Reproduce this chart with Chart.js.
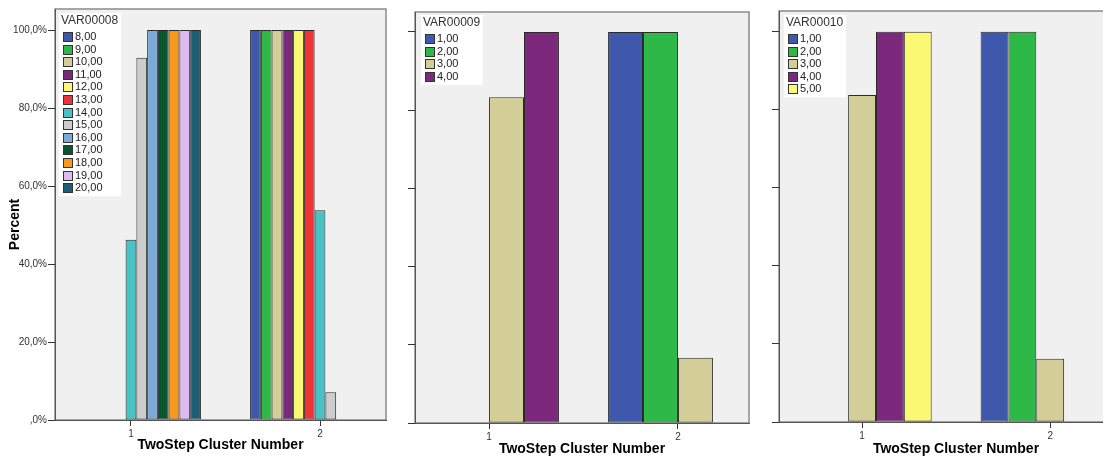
<!DOCTYPE html>
<html><head><meta charset="utf-8">
<script src="https://cdn.jsdelivr.net/npm/chart.js@4.4.1/dist/chart.umd.min.js"></script>
<style>
html,body{margin:0;padding:0;background:#fff;overflow:hidden;width:1103px;height:456px;}
canvas{position:absolute;top:0;}
</style></head><body>
<canvas id="c1" width="395" height="456" style="left:0px"></canvas>
<canvas id="c2" width="370" height="456" style="left:395px"></canvas>
<canvas id="c3" width="380" height="456" style="left:765px"></canvas>
<script>
// ---- data ----
const clusterPositions = [1, 2];
const clusterLabels = ['1', '2'];
const yTickValues = [0, 20, 40, 60, 80, 100];
const yTickLabels = [',0%', '20,0%', '40,0%', '60,0%', '80,0%', '100,0%'];
const xTitle = 'TwoStep Cluster Number';
const yTitle = 'Percent';

const p1Title = 'VAR00008';
const p1Series = ['8,00','9,00','10,00','11,00','12,00','13,00','14,00','15,00','16,00','17,00','18,00','19,00','20,00'];
const p1Cluster1 = [null, null, null, null, null, null, 46.2, 92.9, 100, 100, 100, 100, 100];
const p1Cluster2 = [100, 100, 100, 100, 100, 100, 53.8, 7.1, null, null, null, null, null];

const p2Title = 'VAR00009';
const p2Series = ['1,00','2,00','3,00','4,00'];
const p2Cluster1 = [null, null, 83.3, 100];
const p2Cluster2 = [100, 100, 16.7, null];

const p3Title = 'VAR00010';
const p3Series = ['1,00','2,00','3,00','4,00','5,00'];
const p3Cluster1 = [null, null, 83.8, 100, 100];
const p3Cluster2 = [100, 100, 16.2, null, null];

// ---- style ----
const palette = ['#3E58AC','#2EB848','#D3CE97','#7C287D','#FBF873','#EF3338','#48C2C5','#CCCCCC','#7AAAD5','#0A562C','#F8981D','#DDBAF1','#1A5F76'];
const FONT = '"Liberation Sans", Arial, sans-serif';

const framePlugin = {
  id: 'frame',
  beforeDraw(chart) {
    const {ctx, chartArea: a} = chart;
    ctx.save();
    ctx.fillStyle = '#f0f0f0';
    ctx.fillRect(a.left, a.top, a.right - a.left, a.bottom - a.top);
    ctx.strokeStyle = '#8a8a8a';
    ctx.lineWidth = 1.5;
    ctx.strokeRect(a.left, a.top, a.right - a.left, a.bottom - a.top);
    ctx.restore();
  }
};

// y-axis title drawn slightly below the plot centre, as in the reference
const yTitlePlugin = {
  id: 'yTitleText',
  afterDraw(chart, args, opts) {
    if (!opts.text) return;
    const ctx = chart.ctx, a = chart.chartArea;
    ctx.save();
    ctx.translate(opts.x, (a.top + a.bottom) / 2 + opts.dy);
    ctx.rotate(-Math.PI / 2);
    ctx.textAlign = 'center';
    ctx.textBaseline = 'middle';
    ctx.fillStyle = '#000';
    ctx.font = 'bold 14px ' + FONT;
    ctx.fillText(opts.text, 0, 0);
    ctx.restore();
  }
};

const boxLegend = {
  id: 'boxLegend',
  afterDraw(chart, args, opts) {
    const ctx = chart.ctx, a = chart.chartArea;
    const x0 = a.left + opts.dx, y0 = a.top + opts.dy;
    const ds = chart.data.datasets, n = ds.length, step = 12.6;
    const h = 8 + 16 + (n - 1) * step + 8;
    ctx.save();
    ctx.fillStyle = '#ffffff';
    ctx.fillRect(x0, y0, 62, h);
    ctx.textBaseline = 'middle';
    ctx.textAlign = 'left';
    ctx.fillStyle = '#333';
    ctx.font = '12px ' + FONT;
    ctx.fillText(opts.title, x0 + 2, y0 + 8);
    ds.forEach((d, i) => {
      const cy = Math.round(y0 + 24 + i * step);
      ctx.fillStyle = d.backgroundColor;
      ctx.fillRect(x0 + 4.5, cy - 4.5, 9, 9);
      ctx.strokeStyle = '#333';
      ctx.lineWidth = 1;
      ctx.strokeRect(x0 + 4.5, cy - 4.5, 9, 9);
      ctx.fillStyle = '#222';
      ctx.font = '11px ' + FONT;
      ctx.fillText(d.label, x0 + 16, cy);
    });
    ctx.restore();
  }
};

function makeChart(id, c) {
  const datasets = c.series.map((lab, i) => ({
    label: lab,
    data: clusterPositions.map((x, k) => ({x: x, y: [c.c1, c.c2][k][i]})),
    backgroundColor: palette[i],
    borderColor: '#2a2a2a',
    borderWidth: 1,
    borderSkipped: false,
    categoryPercentage: 0.74,
    barPercentage: 1
  }));
  return new Chart(document.getElementById(id), {
    type: 'bar',
    data: {datasets},
    plugins: [framePlugin, boxLegend, yTitlePlugin],
    options: {
      responsive: false,
      animation: false,
      devicePixelRatio: 1,
      layout: {padding: {left: 0, right: c.pr, top: c.pt, bottom: 0}},
      plugins: {
        legend: {display: false},
        tooltip: {enabled: false},
        boxLegend: {title: c.title, dx: c.ldx, dy: c.ldy},
        yTitleText: {text: c.yLabels ? yTitle : '', x: 15.5, dy: 10}
      },
      scales: {
        x: {
          type: 'linear', offset: false, min: c.xmin, max: c.xmax,
          afterBuildTicks: s => { s.ticks = clusterPositions.map(v => ({value: v})); },
          afterFit: s => { s.height = c.xh; },
          grid: {display: true, drawOnChartArea: false, drawTicks: true, tickLength: 6, color: '#333', offset: false},
          border: {display: true, color: '#555', width: 1},
          ticks: {callback: (v, i) => clusterLabels[i], font: {family: FONT, size: 10}, color: '#333', padding: 2, maxRotation: 0, autoSkip: false},
          title: {display: true, text: xTitle, color: '#000', font: {family: FONT, size: 14, weight: 'bold', lineHeight: 1}, padding: {top: 0, bottom: c.tpb}}
        },
        y: {
          min: 0, max: c.ymax,
          afterBuildTicks: s => { s.ticks = yTickValues.map(v => ({value: v})); },
          afterFit: s => { s.width = c.yw; },
          grid: {display: true, drawOnChartArea: false, drawTicks: true, tickLength: 7, color: '#333'},
          border: {display: true, color: '#555', width: 1},
          ticks: {callback: (v, i) => c.yLabels ? yTickLabels[i] : '', font: {family: FONT, size: 10}, color: '#333', padding: 1},
          title: {display: false}
        }
      }
    }
  });
}

makeChart('c1', {series: p1Series, c1: p1Cluster1, c2: p1Cluster2, title: p1Title,
  xmin: 0.598, xmax: 2.349, ymax: 105.4, pr: 9, pt: 9, yw: 55, xh: 36, tpb: 3.6, yLabels: true, ldx: 4, ldy: 4});
makeChart('c2', {series: p2Series, c1: p2Cluster1, c2: p2Cluster2, title: p2Title,
  xmin: 0.608, xmax: 2.376, ymax: 105.1, pr: 16, pt: 12, yw: 20, xh: 33, tpb: 0, yLabels: false, ldx: 6, ldy: 3});
makeChart('c3', {series: p3Series, c1: p3Cluster1, c2: p3Cluster2, title: p3Title,
  xmin: 0.5585, xmax: 2.44, ymax: 105.3, pr: 12, pt: 11, yw: 14, xh: 34, tpb: 0, yLabels: false, ldx: 5, ldy: 4});
</script>
</body></html>
